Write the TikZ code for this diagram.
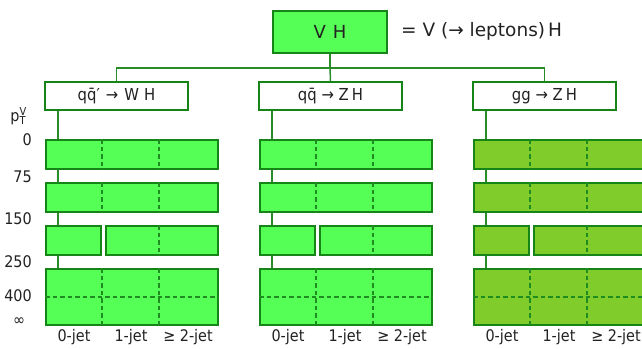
\documentclass[tikz,border=0pt]{standalone}
\usepackage{fontspec}
\setmainfont{DejaVu Sans}
\newfontfamily\condfont{DejaVu Sans Condensed}
\usetikzlibrary{positioning}
\definecolor{brgreen}{RGB}{85,255,85}
\definecolor{olgreen}{RGB}{128,204,42}
\definecolor{edgegreen}{RGB}{22,132,22}
\definecolor{linegreen}{RGB}{40,140,40}
\definecolor{divgreen}{RGB}{30,140,30}
\definecolor{txt}{RGB}{34,34,34}
\tikzset{
  topbox/.style={draw=edgegreen,line width=2pt,fill=brgreen,minimum width=114pt,minimum height=42pt,inner sep=0pt,text=txt,font=\fontsize{18}{20}\selectfont},
  procbox/.style={draw=edgegreen,line width=2pt,fill=white,minimum width=143pt,minimum height=28pt,inner sep=0pt,text=txt,font=\condfont\fontsize{16.5}{18}\selectfont},
  binbox/.style={draw=edgegreen,line width=2pt,anchor=north west,inner sep=0pt,minimum height=29pt},
  tallbox/.style={binbox,minimum height=56pt},
  conn/.style={draw=linegreen,line width=1.5pt},
  div/.style={draw=divgreen,line width=1.4pt,dash pattern=on 4.5pt off 3pt},
  lab/.style={font=\condfont\fontsize{16}{18}\selectfont,inner sep=0pt,text=txt},
}
\newcommand{\smallidx}[1]{{\fontsize{11}{11}\selectfont #1}}
\newcommand{\gap}{\hspace{6pt}}
\begin{document}
\begin{tikzpicture}[x=1pt,y=-1pt]
\useasboundingbox (0,0) rectangle (642,348);
\node[topbox] (vh) at (330,32) {V\hspace{7pt}H};
\node[anchor=west,inner sep=0pt,text=txt,font=\fontsize{18.5}{20}\selectfont] (eq) at (401,31) {= V (→ leptons)\,H};
\node[procbox] (p1) at (116.5,96) {qq̄′\gap→\gap W\hspace{5pt}H};
\node[procbox] (p2) at (330.5,96) {qq̄ → Z\hspace{3pt}H};
\node[procbox] (p3) at (544.5,96) {gg → Z\hspace{3pt}H};
\coordinate (j) at (330,68);
\draw[conn] (vh.south) -- (j);
\draw[conn] (p1.north) |- (j) -| (p3.north);
\draw[conn] (j) -- (p2.north);
% y-axis labels
\node[lab] (ptv) at (18,116) {p\rlap{\raisebox{6.5pt}{\smallidx{V}}}\raisebox{-3pt}{\smallidx{T}}};
\node[lab,anchor=east] (l0) at (32,140) {0};
\node[lab,anchor=east] (l75) at (32,177) {75};
\node[lab,anchor=east] (l150) at (32,219) {150};
\node[lab,anchor=east] (l250) at (32,262) {250};
\node[lab,anchor=east] (l400) at (32,296) {400};
\node[lab] (linf) at (19,322) {∞};
\foreach \c/\X/\col in {1/45/brgreen,2/259/brgreen,3/473/olgreen}{
  \draw[conn] ([xshift=14pt]p\c.south west) -- ([xshift=14pt]p\c.south west |- 0,268) coordinate (e\c);
  \node[binbox,fill=\col,minimum width=172pt] (a\c) at (\X,139) {};
  \node[binbox,fill=\col,minimum width=172pt] (b\c) at (\X,182) {};
  \node[binbox,fill=\col,minimum width=55pt] (c\c) at (\X,225) {};
  \node[binbox,fill=\col,minimum width=112pt] (d\c) at (\X+60,225) {};
  \node[tallbox,fill=\col,minimum width=172pt] (f\c) at (\X,268) {};
  \foreach \r in {a,b,f}{
    \draw[div] ([xshift=57pt]\r\c.north west) -- ([xshift=57pt]\r\c.south west);
    \draw[div] ([xshift=114pt]\r\c.north west) -- ([xshift=114pt]\r\c.south west);
  }
  \draw[div] ([xshift=54pt]d\c.north west) -- ([xshift=54pt]d\c.south west);
  \draw[div] (f\c.west) -- (f\c.east);
  \node[lab] (j0\c) at (\X+29,337) {0-jet};
  \node[lab] (j1\c) at (\X+86,337) {1-jet};
  \node[lab] (j2\c) at (\X+143,337) {≥ 2-jet};
}
\end{tikzpicture}
\end{document}
